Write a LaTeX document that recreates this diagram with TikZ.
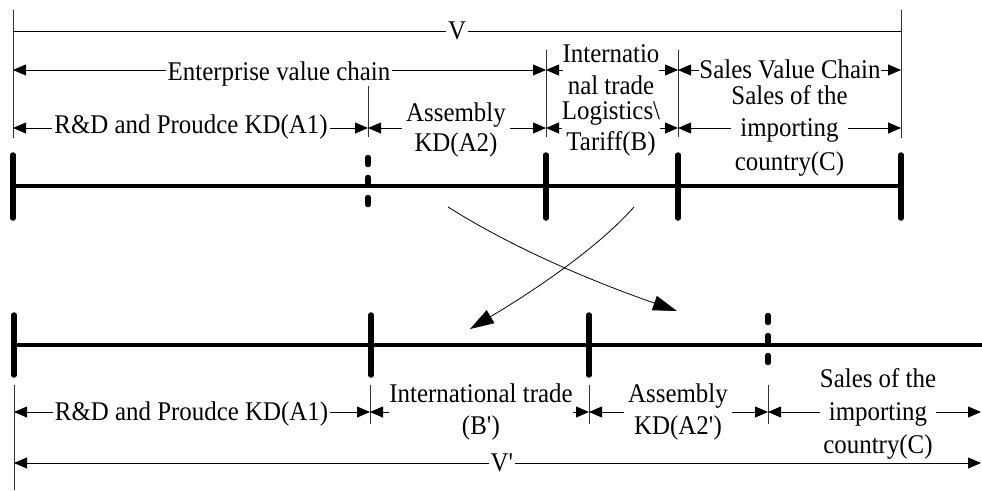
\documentclass[tikz,border=0pt]{standalone}
\usepackage{fontspec}
\setmainfont{Liberation Serif}[FakeStretch=0.922]
\usetikzlibrary{arrows.meta}
\begin{document}
\begin{tikzpicture}[x=1pt,y=-1pt,
  extline/.style={line width=0.6pt, draw=black!80},
  plainline/.style={line width=0.8pt},
  dim/.style={line width=0.8pt, {Triangle[length=13pt,width=11pt]}-{Triangle[length=13pt,width=11pt]}},
  lbl/.style={font=\fontsize{27}{32}\selectfont, inner sep=0pt, align=center},
  mask/.style={fill=white, inner xsep=2pt},
  axis/.style={line width=3.5pt},
  tickmark/.style={line width=5.5pt, line cap=round},
  dtickmark/.style={line width=5.5pt, line cap=round, dash pattern=on 7pt off 13pt},
  flow/.style={line width=0.8pt, -{Triangle[length=24pt,width=15pt]}}
]
\useasboundingbox (0,0) rectangle (982,490);

% ---------- top axis ----------
\coordinate (T0) at (13,186);
\coordinate (T1) at (368,186);
\coordinate (T2) at (546,186);
\coordinate (T3) at (678,186);
\coordinate (T4) at (901,186);
\draw[axis] (T0) -- (T4);
\draw[tickmark] (13,155) -- (13,218);
\draw[dtickmark] (368,157.5) -- (368,206);
\draw[tickmark] (546,155) -- (546,218);
\draw[tickmark] (678,155) -- (678,218);
\draw[tickmark] (901,155) -- (901,218);

% extension lines (top)
\draw[extline] (13,10) -- (13,138);
\draw[extline] (901,10) -- (901,138);
\draw[extline] (368,85) -- (368,137);
\draw[extline] (546,50) -- (546,137);
\draw[extline] (678,50) -- (678,137);

% V
\coordinate (V0) at (13,31);
\coordinate (V1) at (901,31);
\draw[plainline] (V0) -- (V1);
\node[lbl, mask] (v) at (457,31) {V};

% row at y=70
\draw[dim] (13,70) -- (546,70);
\draw[dim] (546,70) -- (678,70);
\draw[dim] (678,70) -- (901,70);
\node[lbl, mask, anchor=base] (evc) at (279,80) {Enterprise value chain};
\node[lbl, fill=white] (it) at (611,70) {Internatio\\nal trade};
\node[lbl, fill=white, anchor=base] (svc) at (790,78) {Sales Value Chain};

% row at y=128
\draw[dim] (13,128) -- (368,128);
\draw[dim] (368,128) -- (546,128);
\draw[dim] (546,128) -- (678,128);
\draw[dim] (678,128) -- (901,128);
\node[lbl, mask, anchor=base] (rd) at (191,133) {R\&D and Proudce KD(A1)};
\node[lbl, fill=white, inner xsep=4pt, font=\fontsize{27}{30}\selectfont] (asm) at (456,130) {Assembly\\KD(A2)};
\node[lbl, fill=white, font=\fontsize{27}{31}\selectfont] (lt) at (611,129) {Logistics\textbackslash\\Tariff(B)};
\node[lbl, anchor=base] (s1) at (789.5,104) {Sales of the};
\node[lbl, fill=white, inner xsep=9pt, anchor=base] (s2) at (789.5,136) {importing};
\node[lbl, anchor=base] (s3) at (789.5,170) {country(C)};

% ---------- bottom axis ----------
\coordinate (B0) at (14,345);
\coordinate (B1) at (371,345);
\coordinate (B2) at (589,345);
\coordinate (B3) at (768,345);
\coordinate (B4) at (982,345);
\draw[axis] (B0) -- (B4);
\draw[tickmark] (14,315) -- (14,375);
\draw[tickmark] (371,315) -- (371,375);
\draw[tickmark] (589,315) -- (589,375);
\draw[dtickmark] (768,315.5) -- (768,364);

% extension lines (bottom)
\draw[extline] (14,385) -- (14,490);
\draw[extline] (370,385) -- (370,424);
\draw[extline] (589,385) -- (589,424);
\draw[extline] (768,385) -- (768,424);

% row at y=412
\draw[dim] (14,412) -- (370,412);
\draw[dim] (370,412) -- (589,412);
\draw[dim] (589,412) -- (768,412);
\draw[dim] (768,412) -- (981,412);
\node[lbl, mask, anchor=base] (rd2) at (191.5,420) {R\&D and Proudce KD(A1)};
\node[lbl, fill=white] (it2) at (481,412) {International trade\\(B\textquotesingle)};
\node[lbl, fill=white, inner xsep=4pt] (asm2) at (678,412) {Assembly\\KD(A2\textquotesingle)};
\node[lbl, anchor=base] (s21) at (878,387) {Sales of the};
\node[lbl, fill=white, inner xsep=9pt, anchor=base] (s22) at (878,420) {importing};
\node[lbl, anchor=base] (s23) at (878,453) {country(C)};

% V'
\draw[dim] (14,463) -- (981,463);
\node[lbl, mask] (vp) at (502,463) {V\textquotesingle};

% ---------- crossing arrows ----------
\coordinate (c1s) at (448,207);
\coordinate (c1e) at (677,311);
\coordinate (c2s) at (634,207);
\coordinate (c2e) at (470,329);
\draw[flow] (c1s) .. controls (518,251) and (597,283) .. (c1e);
\draw[flow] (c2s) .. controls (594,252) and (525,296) .. (c2e);
\end{tikzpicture}
\end{document}
